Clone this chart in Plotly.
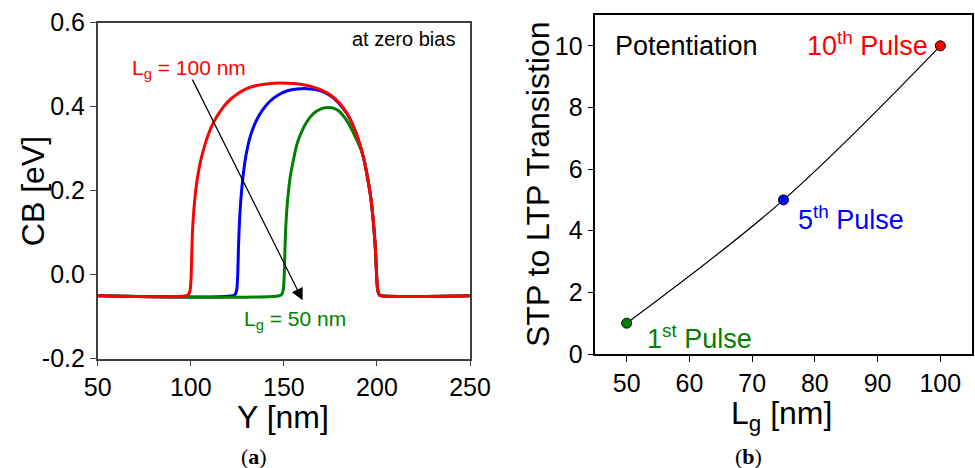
import plotly.graph_objects as go

# ---- panel (a): conduction band profile along the channel at zero bias ----
# shared falling edge at the drain side (all three gate lengths end at Y = 200 nm)
y_fall = [184.0, 187.5, 190.5, 193.0, 195.0, 196.8, 198.0, 199.0, 199.6, 200.0, 200.5,
          201.3, 202.5, 250]
cb_fall = [0.383, 0.352, 0.315, 0.275, 0.230, 0.180, 0.130, 0.075, 0.020, -0.015, -0.038,
           -0.048, -0.05, -0.05]

y_100 = [50, 97.5, 98.8, 99.6, 100.0, 100.3, 100.6, 101.0, 101.6, 102.4, 103.4, 105.0,
         107.0, 109.5, 112.5, 116.0, 120.0, 125.0, 130.0, 137.0, 145.0, 152.0, 158.0,
         164.0, 170.0, 175.0, 180.0] + y_fall
cb_100 = [-0.05, -0.05, -0.047, -0.038, -0.02, 0.01, 0.06, 0.11, 0.15, 0.19, 0.225, 0.265,
          0.30, 0.335, 0.365, 0.39, 0.412, 0.43, 0.443, 0.452, 0.456, 0.456, 0.454,
          0.449, 0.44, 0.428, 0.408] + cb_fall

y_75 = [50, 122.5, 123.8, 124.6, 125.0, 125.3, 125.6, 126.0, 126.6, 127.4, 128.5, 130.0,
        132.0, 135.0, 138.5, 142.5, 147.0, 152.0, 157.0, 162.0, 167.0, 171.0, 175.0,
        179.0, 182.0] + y_fall
cb_75 = [-0.05, -0.05, -0.047, -0.038, -0.02, 0.01, 0.06, 0.11, 0.16, 0.205, 0.25, 0.292,
         0.33, 0.365, 0.392, 0.413, 0.428, 0.438, 0.442, 0.443, 0.441, 0.436, 0.426,
         0.411, 0.395] + cb_fall

y_50 = [50, 147.5, 148.8, 149.6, 150.0, 150.3, 150.6, 151.0, 151.6, 152.4, 153.5, 155.0,
        157.0, 159.5, 162.5, 166.0, 170.0, 174.0, 177.0, 180.0, 183.0, 186.0, 188.5,
        191.5] + y_fall[3:]
cb_50 = [-0.05, -0.05, -0.047, -0.038, -0.02, 0.01, 0.06, 0.11, 0.155, 0.195, 0.235, 0.27,
         0.31, 0.34, 0.365, 0.384, 0.395, 0.398, 0.396, 0.388, 0.372, 0.35, 0.327,
         0.297] + cb_fall[3:]

cb_ticks = [-0.2, 0.0, 0.2, 0.4, 0.6]
cb_ticktext = ["-0.2", "0.0", "0.2", "0.4", "0.6"]

# ---- panel (b): pulse number of the STP -> LTP transition vs gate length ----
gate_lengths = [50, 75, 100]
pulses = [1, 5, 10]
pulse_colors = ["#008000", "#0000ff", "#ff0000"]

FONT = "Liberation Sans, Arial, sans-serif"
W, H = 975, 468


def ordinal(n):
    suffix = {1: "st", 2: "nd", 3: "rd"}.get(n if n < 20 else n % 10, "th")
    return f"{n}<sup>{suffix}</sup> Pulse"


def px(x):
    return x / W


def py(y):
    return 1 - y / H


fig = go.Figure()

for xs, ys, col in [(y_75, cb_75, "#0000ff"), (y_50, cb_50, "#008000"),
                    (y_100, cb_100, "#ff0000")]:
    fig.add_trace(go.Scatter(x=xs, y=ys, mode="lines",
                             line=dict(color=col, width=3, shape="spline", smoothing=1.0),
                             xaxis="x", yaxis="y", showlegend=False, hoverinfo="skip"))

fig.add_trace(go.Scatter(x=gate_lengths, y=pulses, mode="lines+markers",
                         line=dict(color="black", width=1.2, shape="spline"),
                         marker=dict(size=10, color=pulse_colors,
                                     line=dict(color="black", width=1)),
                         xaxis="x2", yaxis="y2", showlegend=False))

axis_common = dict(showline=True, mirror=True, ticks="outside", ticklen=6,
                   showgrid=False, zeroline=False, automargin=False,
                   tickfont=dict(family=FONT, size=25, color="black"))

fig.update_layout(
    width=W, height=H,
    margin=dict(l=0, r=0, t=0, b=0),
    paper_bgcolor="white", plot_bgcolor="white",
    font=dict(family=FONT, color="black"),
    xaxis=dict(domain=[px(97.7), px(470)], range=[50, 250], dtick=50,
               linecolor="#404040", tickcolor="#404040", linewidth=1.5,
               anchor="y", **axis_common),
    yaxis=dict(domain=[py(358.7), py(22.7)], range=[-0.2, 0.6],
               tickvals=cb_ticks, ticktext=cb_ticktext,
               linecolor="#404040", tickcolor="#404040", linewidth=1.5,
               anchor="x", **axis_common),
    xaxis2=dict(domain=[px(595.3), px(971.7)], range=[45, 105], dtick=10,
                linecolor="black", tickcolor="black", linewidth=1.5,
                anchor="y2", **axis_common),
    yaxis2=dict(domain=[py(354), py(15)], range=[0, 11], dtick=2,
                linecolor="black", tickcolor="black", linewidth=1.5,
                anchor="x2", **axis_common),
)

ann = []
# axis titles
ann.append(dict(x=px(32.5), y=py(191.7), xref="paper", yref="paper", text="CB [eV]",
                textangle=-90, showarrow=False, xanchor="center", yanchor="middle",
                font=dict(size=32)))
ann.append(dict(x=px(283), y=py(417), xref="paper", yref="paper", text="Y [nm]",
                showarrow=False, xanchor="center", yanchor="middle", font=dict(size=32)))
ann.append(dict(x=px(538), y=py(185), xref="paper", yref="paper",
                text="STP to LTP Transistion", textangle=-90, showarrow=False,
                xanchor="center", yanchor="middle", font=dict(size=32)))
ann.append(dict(x=px(781.7), y=py(415), xref="paper", yref="paper",
                text="L<sub>g</sub> [nm]", showarrow=False, xanchor="center",
                yanchor="middle", font=dict(size=32)))

# panel (a) texts and arrow
ann.append(dict(x=243, y=0.562, xref="x", yref="y", text="at zero bias", showarrow=False,
                xanchor="right", yanchor="middle", font=dict(size=20, color="black")))
ann.append(dict(x=67.4, y=0.49, xref="x", yref="y", text="L<sub>g</sub> = 100 nm",
                showarrow=False, xanchor="left", yanchor="middle",
                font=dict(size=21, color="#ff0000")))
ann.append(dict(x=127.4, y=-0.107, xref="x", yref="y", text="L<sub>g</sub> = 50 nm",
                showarrow=False, xanchor="left", yanchor="middle",
                font=dict(size=21, color="#008000")))
ann.append(dict(x=160.1, y=-0.061, ax=100.5, ay=0.468, xref="x", yref="y",
                axref="x", ayref="y", text="", showarrow=True, arrowhead=2,
                arrowsize=2.0, arrowwidth=1.2, arrowcolor="black"))

# panel (b) texts
ann.append(dict(x=47.9, y=10.0, xref="x2", yref="y2", text="Potentiation", showarrow=False,
                xanchor="left", yanchor="middle", font=dict(size=27, color="black")))
label_pos = [(52.9, 0.55, "left"), (76.96, 4.4, "left"), (98.3, 10.05, "right")]
for (lx, ly, anc), p, c in zip(label_pos, pulses, pulse_colors):
    ann.append(dict(x=lx, y=ly, xref="x2", yref="y2", text=ordinal(p), showarrow=False,
                    xanchor=anc, yanchor="middle", font=dict(size=27, color=c)))

# panel captions
for cx, lab in [(254, "a"), (748, "b")]:
    ann.append(dict(x=px(cx), y=py(456), xref="paper", yref="paper",
                    text=f"(<b>{lab}</b>)", showarrow=False, xanchor="center",
                    yanchor="middle",
                    font=dict(family="Liberation Serif, serif", size=22, color="black")))

fig.update_layout(annotations=ann)
fig.write_html("out.html")
